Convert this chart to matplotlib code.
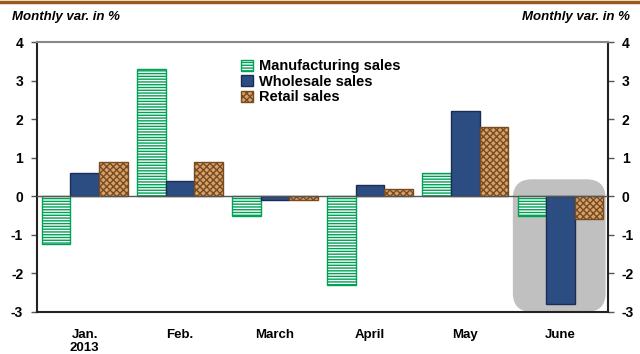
import matplotlib
matplotlib.use("Agg")
import matplotlib.pyplot as plt
import numpy as np
from matplotlib.patches import FancyBboxPatch
from matplotlib.lines import Line2D

plt.rcParams['font.family'] = ['Liberation Sans', 'DejaVu Sans']
plt.rcParams['hatch.linewidth'] = 1.0

# datos
meses = ['Jan.\n2013', 'Feb.', 'March', 'April', 'May', 'June']
manufacturing = [-1.25, 3.3, -0.5, -2.3, 0.6, -0.5]
wholesale = [0.6, 0.4, -0.1, 0.3, 2.2, -2.8]
retail = [0.9, 0.9, -0.1, 0.2, 1.8, -0.6]
yticks = [-3, -2, -1, 0, 1, 2, 3, 4]

fig = plt.figure(figsize=(6.4, 3.54), dpi=100)
ax = fig.add_axes([0.058, 0.119, 0.892, 0.762])

x = np.arange(len(meses))
w = 0.3

# caja gris para junio
caja = FancyBboxPatch((4.5, -3.0), 0.975, 3.44,
                      boxstyle="round,pad=0,rounding_size=0.2",
                      mutation_aspect=2.47, facecolor='#c0c0c0',
                      edgecolor='none', zorder=0)
ax.add_patch(caja)

ax.bar(x - w, manufacturing, w, facecolor='white', edgecolor='#00a055',
       hatch='------', linewidth=1.0, zorder=2, label='Manufacturing sales')
ax.bar(x, wholesale, w, facecolor='#2c4d82', edgecolor='#1b2d55',
       linewidth=1.0, zorder=2, label='Wholesale sales')
ax.bar(x + w, retail, w, facecolor='#d4a26a', edgecolor='#7a4a20',
       hatch='xxxxx', linewidth=1.0, zorder=2, label='Retail sales')

ax.axhline(0, color='#555555', linewidth=1.0, zorder=3)

ax.set_xlim(-0.5, 5.5)
ax.set_ylim(-3, 4)
ax.set_yticks(yticks)
ax.set_yticklabels([str(v) for v in yticks], fontweight='bold', fontsize=10)
ax.tick_params(axis='y', which='both', left=True, right=True,
               labelleft=True, labelright=True, length=4, width=1,
               color='#555555', direction='out', pad=6)
ax.set_xticks(x)
ax.set_xticklabels(meses, fontweight='bold', fontsize=9.5)
ax.tick_params(axis='x', length=0, pad=12)

for s in ['left', 'right', 'bottom']:
    ax.spines[s].set_color('#222222')
    ax.spines[s].set_linewidth(1.5)
ax.spines['top'].set_color('#888888')
ax.spines['top'].set_linewidth(1.5)

leg = ax.legend(loc='upper left', bbox_to_anchor=(0.335, 0.985), frameon=False,
                prop={'weight': 'bold', 'size': 10.5}, handlelength=0.8,
                handleheight=0.8, handletextpad=0.4, labelspacing=0.1)

fig.text(0.019, 0.952, 'Monthly var. in %', fontsize=9.5, fontweight='bold',
         fontstyle='italic', ha='left', va='center')
fig.text(0.984, 0.952, 'Monthly var. in %', fontsize=9.5, fontweight='bold',
         fontstyle='italic', ha='right', va='center')

# linea marron superior
fig.add_artist(Line2D([0, 1], [0.995, 0.995], color='#9a5a1c', linewidth=2.5,
                      transform=fig.transFigure))

fig.savefig('out.png', dpi=100)
